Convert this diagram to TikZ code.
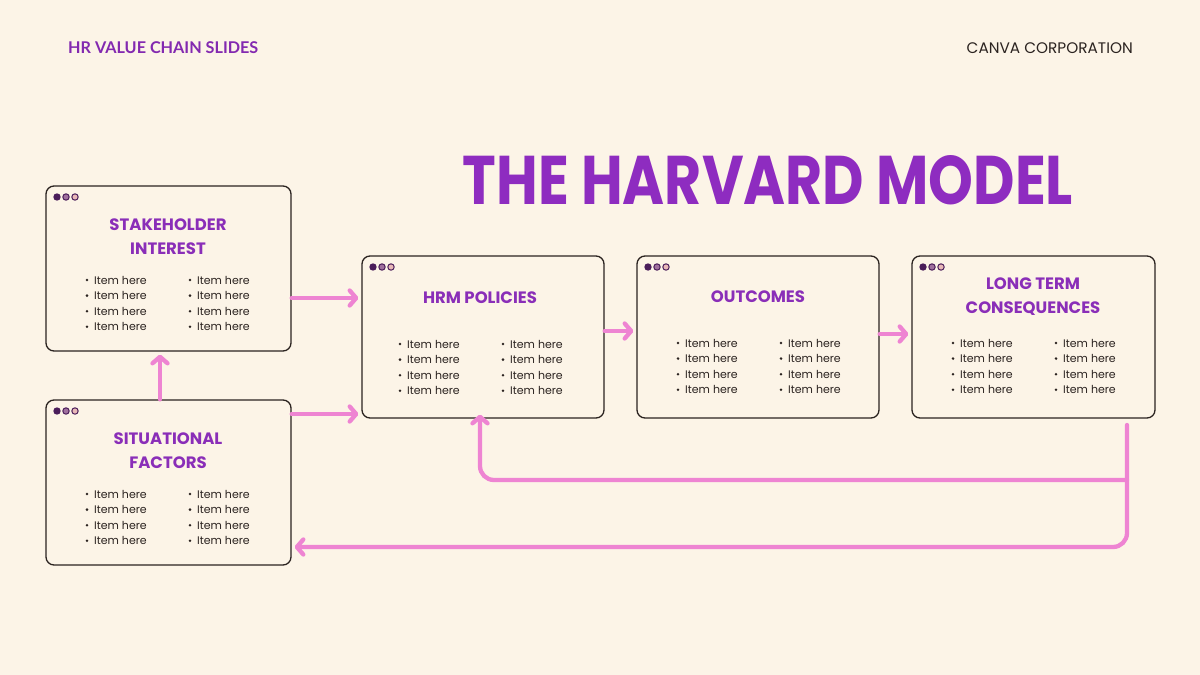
\documentclass[tikz,border=0pt]{standalone}
\usepackage{fontspec}
\setmainfont{Poppins}
\newfontfamily\hdfont{Lato}
\usetikzlibrary{arrows.meta}
\definecolor{bg}{HTML}{FCF4E7}
\definecolor{ttl}{HTML}{8E2CC0}
\definecolor{hdc}{HTML}{8329B0}
\definecolor{boxttl}{HTML}{8A2EB8}
\definecolor{pk}{HTML}{EE84D2}
\definecolor{ink}{HTML}{2B2320}
\definecolor{dotA}{HTML}{4A1D5A}
\definecolor{dotB}{HTML}{A0709E}
\definecolor{dotC}{HTML}{E9B8B8}
\tikzset{
  panel/.style={draw=ink, line width=1.3pt, rounded corners=8pt, fill=bg, inner sep=0pt},
  boxtitle/.style={font=\fontsize{16.5}{24}\selectfont\bfseries, text=boxttl, align=center, inner sep=0pt},
  itemtext/.style={font=\fontsize{11}{13}\selectfont, text=ink, anchor=west, inner sep=0pt},
  arr/.style={draw=pk, line width=4.3pt, line cap=round, -{Straight Barb[length=6.5pt,width=15pt,round]}},
}
\newcommand\itemcol[2]{%
  \foreach \k in {0,1,2,3}{%
    \fill[ink] (#1,#2+\k*15.6) circle (1.4);
    \node[itemtext] at (#1+7,#2+\k*15.6) {Item here};
  }}
\newcommand\winDots[2]{%
  \fill[dotA] (#1,#2) circle (3.7);
  \filldraw[fill=dotB, draw=dotA, line width=1pt] (#1+9,#2) circle (3.2);
  \filldraw[fill=dotC, draw=dotA, line width=1pt] (#1+18,#2) circle (3.2);
}
\begin{document}
\begin{tikzpicture}[x=1pt,y=-1pt]
\fill[bg] (0,0) rectangle (1200,675);
\useasboundingbox (0,0) rectangle (1200,675);

% header
\node[anchor=west, inner sep=0pt, font=\hdfont\fontsize{16.2}{18}\selectfont\bfseries, text=hdc] (hd) at (68,48) {HR VALUE CHAIN SLIDES};
\node[anchor=east, inner sep=0pt, font=\fontsize{15.3}{18}\selectfont, text=ink] (co) at (1133,48) {CANVA CORPORATION};

% main title
\node[anchor=center, inner sep=0pt, text=ttl] (title) at (768,180) {\resizebox{610pt}{49pt}{\bfseries THE HARVARD MODEL}};

% panels
\node[panel, minimum width=245pt, minimum height=165pt] (stake) at (168.5,268.5) {};
\node[panel, minimum width=245pt, minimum height=165pt] (sit) at (168.5,482.5) {};
\node[panel, minimum width=242pt, minimum height=162pt] (hrm) at (483,337) {};
\node[panel, minimum width=242pt, minimum height=162pt] (out) at (758,337) {};
\node[panel, minimum width=243pt, minimum height=162pt] (lt) at (1033.5,337) {};

% window dots
\winDots{57}{197}
\winDots{57}{411}
\winDots{373}{267}
\winDots{648}{267}
\winDots{923}{267}

% titles
\node[boxtitle] (tstake) at (168,237) {STAKEHOLDER\\INTEREST};
\node[boxtitle] (tsit) at (168,451) {SITUATIONAL\\FACTORS};
\node[boxtitle] (thrm) at (480,298) {HRM POLICIES};
\node[boxtitle] (tout) at (758,297) {OUTCOMES};
\node[boxtitle] (tlt) at (1033,297) {LONG TERM\\CONSEQUENCES};

% items
\itemcol{87}{280}\itemcol{190}{280}
\itemcol{87}{494}\itemcol{190}{494}
\itemcol{400}{344}\itemcol{503}{344}
\itemcol{678}{343}\itemcol{781}{343}
\itemcol{953}{343}\itemcol{1056}{343}

% connectors
\draw[arr] (stake.east |- 0,298) -- ([xshift=-3pt]hrm.west |- 0,298);
\draw[arr] (sit.east |- 0,414) -- ([xshift=-3pt]hrm.west |- 0,414);
\draw[arr] (sit.north -| 160,0) -- ([yshift=-3pt]stake.south -| 160,0);
\draw[arr] (hrm.east |- 0,331) -- ([xshift=-3pt]out.west |- 0,331);
\draw[arr] (out.east |- 0,334) -- ([xshift=-3pt]lt.west |- 0,334);

\coordinate (fb) at (1127,425);
\coordinate (br) at (1127,480);
\draw[arr, rounded corners=14pt] (fb) -- (1127,547) -- ([xshift=3pt]sit.east |- 0,547);
\draw[arr, rounded corners=14pt] (br) -- (480,480) -- ([yshift=4pt]hrm.south -| 480,0);
\end{tikzpicture}
\end{document}
